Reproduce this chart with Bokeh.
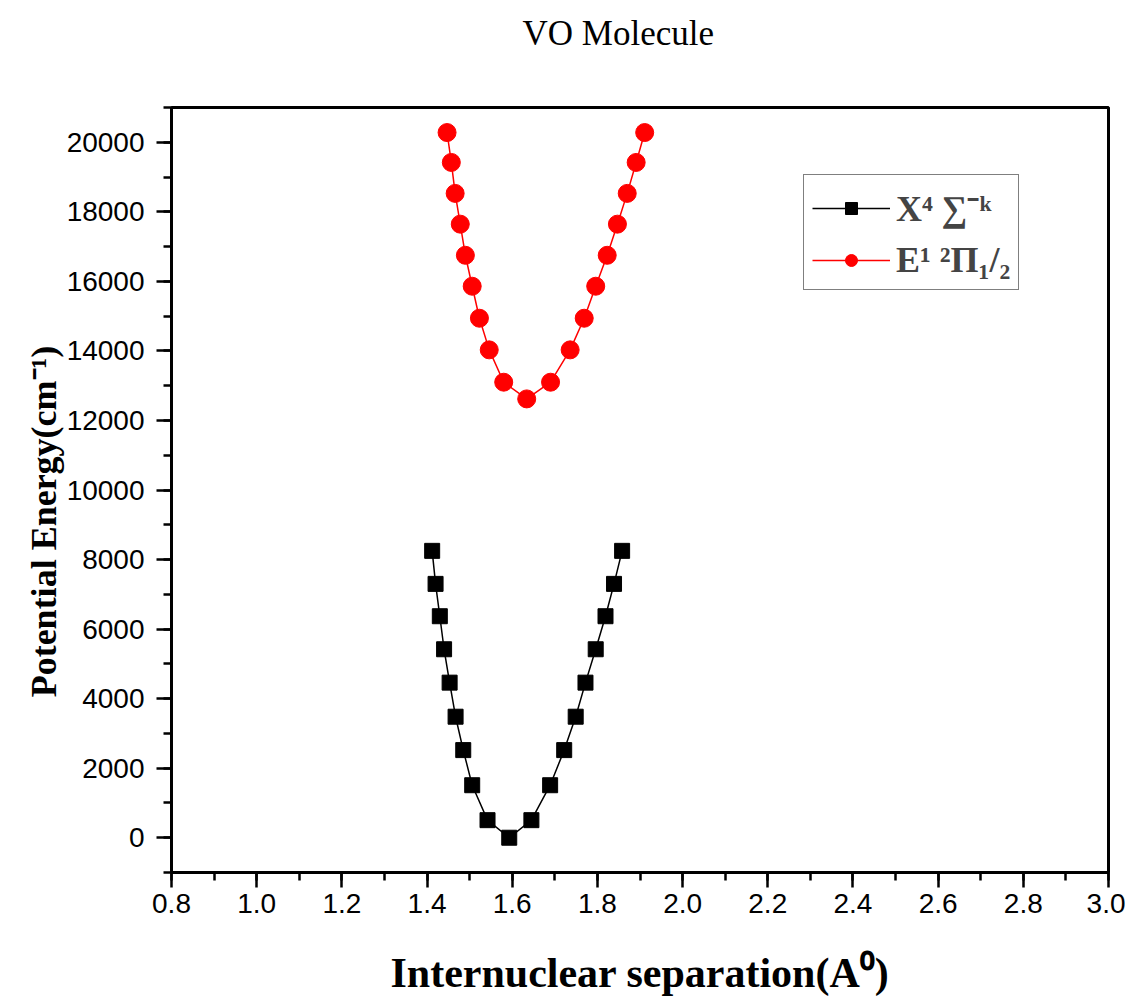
from bokeh.plotting import figure
from bokeh.models import (Range1d, SingleIntervalTicker, PrintfTickFormatter,
                          Legend, LegendItem, Title)
from bokeh.embed import file_html
from bokeh.resources import INLINE

# ---- data ----
x_state_x = [1.412, 1.420, 1.430, 1.440, 1.453, 1.467, 1.485, 1.506, 1.542, 1.593,
             1.645, 1.689, 1.722, 1.749, 1.772, 1.796, 1.819, 1.839, 1.858]
x_state_y = [8250, 7300, 6370, 5420, 4460, 3480, 2520, 1510, 505, 0,
             505, 1510, 2520, 3480, 4460, 5420, 6370, 7300, 8250]

e_state_x = [1.447, 1.457, 1.466, 1.478, 1.490, 1.506, 1.523, 1.546, 1.580, 1.634,
             1.690, 1.736, 1.769, 1.796, 1.823, 1.847, 1.870, 1.891, 1.911]
e_state_y = [20280, 19420, 18530, 17645, 16750, 15860, 14940, 14030, 13100, 12620,
             13100, 14030, 14940, 15860, 16750, 17645, 18530, 19420, 20280]

label_x_state = "X\u2074 \u2211\u207b\u1d4f"
label_e_state = "E\u00b9 \u00b2\u03a0\u2081/\u2082"
title_text = "VO Molecule"
x_label = "Internuclear separation(A\u2070)"
y_label = "Potential Energy(cm\u207b\u00b9)" + "\u00a0" * 7

p = figure(width=1125, height=998, output_backend="svg", toolbar_location=None,
           x_range=Range1d(0.8, 3.0), y_range=Range1d(-1000, 21000),
           min_border_left=171, min_border_right=17, min_border_top=107,
           min_border_bottom=121)

p.title = Title(text=title_text, align="left", offset=351, standoff=0,
                vertical_align="bottom", text_font="Liberation Serif",
                text_font_size="35px", text_font_style="normal",
                text_color="black",
                padding=dict(top=0, bottom=55, left=0, right=0))

p.xgrid.visible = False
p.ygrid.visible = False
p.outline_line_color = "black"
p.outline_line_width = 3
p.outline_line_alpha = 1.0
p.background_fill_color = "white"
p.border_fill_color = "white"

lx = p.line(x_state_x, x_state_y, line_color="black", line_width=1.5)
sx = p.scatter(x_state_x, x_state_y, marker="square", size=15,
               fill_color="black", line_color="black")
le = p.line(e_state_x, e_state_y, line_color="red", line_width=1.5)
se = p.scatter(e_state_x, e_state_y, marker="circle", size=18,
               fill_color="red", line_color="red")

for ax in (p.xaxis[0], p.yaxis[0]):
    ax.axis_line_width = 3
    ax.major_tick_line_width = 2.5
    ax.minor_tick_line_width = 2.5
    ax.major_tick_in = 0
    ax.major_tick_out = 15
    ax.minor_tick_in = 0
    ax.minor_tick_out = 8
    ax.major_label_text_font = "Liberation Sans"
    ax.major_label_text_font_size = "28px"
    ax.major_label_text_color = "black"
    ax.axis_label_text_font = "Liberation Serif"
    ax.axis_label_text_font_style = "bold"
    ax.axis_label_text_color = "black"

p.xaxis.ticker = SingleIntervalTicker(interval=0.2, num_minor_ticks=2)
p.xaxis.formatter = PrintfTickFormatter(format="%.1f")
p.xaxis.major_label_standoff = 6
p.xaxis.axis_label = x_label
p.xaxis.axis_label_text_font_size = "42px"
p.xaxis.axis_label_standoff = 34

p.yaxis.ticker = SingleIntervalTicker(interval=2000, num_minor_ticks=2)
p.yaxis.formatter = PrintfTickFormatter(format="%d")
p.yaxis.major_label_standoff = 12
p.yaxis.axis_label = y_label
p.yaxis.axis_label_text_font_size = "36px"
p.yaxis.axis_label_standoff = 0

legend = Legend(items=[LegendItem(label=label_x_state, renderers=[lx, sx]),
                       LegendItem(label=label_e_state, renderers=[le, se])],
                location=(632, 582), glyph_width=78, glyph_height=30,
                label_height=40, spacing=7, padding=8, margin=0,
                label_standoff=6,
                label_text_font="Liberation Serif", label_text_font_style="bold",
                label_text_font_size="36px",
                border_line_color="black", border_line_width=1.5,
                background_fill_alpha=1.0)
p.add_layout(legend)

open("out.html", "w").write(file_html(p, INLINE))
